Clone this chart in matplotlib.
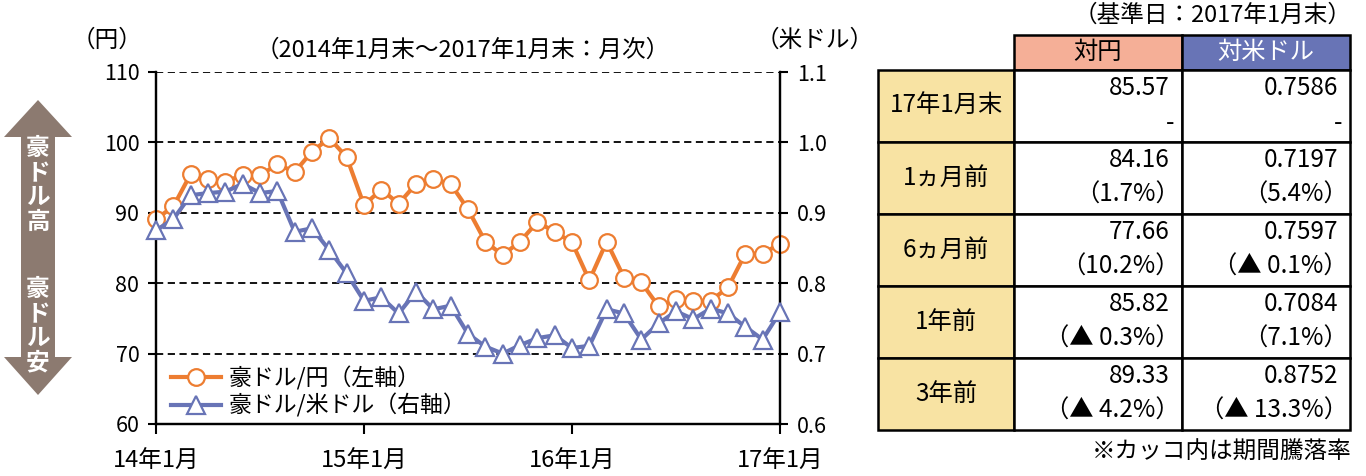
import numpy as np
import matplotlib
matplotlib.use("Agg")
import matplotlib.pyplot as plt
from matplotlib.patches import Polygon, Rectangle

plt.rcParams['font.family'] = ['Noto Sans CJK JP', 'DejaVu Sans']

# monthly data, Jan 2014 .. Jan 2017
aud_jpy = [89.1, 90.9, 95.5, 94.8, 94.4, 95.4, 95.3, 96.9, 95.8, 98.7, 100.6, 97.9,
           91.1, 93.3, 91.3, 94.1, 94.8, 94.1, 90.5, 85.9, 84.0, 85.9, 88.7, 87.3,
           85.8, 80.4, 85.9, 80.8, 80.1, 76.7, 77.7, 77.5, 77.5, 79.4, 84.2, 84.2,
           85.6]
aud_usd = [0.875, 0.891, 0.925, 0.928, 0.930, 0.941, 0.928, 0.931, 0.873, 0.878, 0.847, 0.814,
           0.775, 0.780, 0.757, 0.788, 0.763, 0.768, 0.728, 0.710, 0.700, 0.712, 0.722, 0.726,
           0.708, 0.711, 0.763, 0.757, 0.720, 0.743, 0.760, 0.749, 0.764, 0.757, 0.738, 0.720,
           0.759]
xlabels = ['14年1月', '15年1月', '16年1月', '17年1月']

# table
row_names = ['17年1月末', '1ヵ月前', '6ヵ月前', '1年前', '3年前']
jpy_vals = ['85.57', '84.16', '77.66', '85.82', '89.33']
jpy_chg = ['-', '（1.7%）', '（10.2%）', '（▲ 0.3%）', '（▲ 4.2%）']
usd_vals = ['0.7586', '0.7197', '0.7597', '0.7084', '0.8752']
usd_chg = ['-', '（5.4%）', '（▲ 0.1%）', '（7.1%）', '（▲ 13.3%）']

orange = '#ED7D31'
blue = '#6874B6'

W, H = 1366, 476
fig = plt.figure(figsize=(W / 100, H / 100), dpi=100)

ax = fig.add_axes([156 / W, 1 - 424 / H, 624 / W, 352 / H])
x = np.arange(len(aud_jpy))
ax.plot(x, aud_jpy, color=orange, lw=3, marker='o', ms=12, mfc='white',
        mec=orange, mew=1.6, clip_on=False, zorder=3, label='豪ドル/円（左軸）')
ax.set_ylim(60, 110)
ax.set_xlim(0, 36)
ax.set_yticks(np.arange(60, 111, 10))
ax.set_xticks([0, 12, 24, 36])
ax.set_xticklabels(xlabels)
ax.yaxis.grid(True, color='black', lw=1.3, linestyle=(0, (4, 2.5)))
ax.set_axisbelow(True)

ax2 = ax.twinx()
ax2.plot(x, aud_usd, color=blue, lw=3, marker='^', ms=13, mfc='white',
         mec=blue, mew=1.6, clip_on=False, zorder=3, label='豪ドル/米ドル（右軸）')
ax2.set_ylim(0.6, 1.1)
ax2.set_yticks(np.arange(0.6, 1.11, 0.1))
ax2.set_yticklabels(['0.6', '0.7', '0.8', '0.9', '1.0', '1.1'])

for a in (ax, ax2):
    a.spines['top'].set_visible(False)
    for s in ('left', 'right', 'bottom'):
        a.spines[s].set_linewidth(1.6)
ax.tick_params(axis='y', direction='out', length=6, width=1.5, labelsize=15.5, pad=6)
ax.tick_params(axis='x', direction='out', length=7, width=1.5, labelsize=17, pad=12)
ax2.tick_params(axis='y', direction='out', length=6, width=1.5, labelsize=15.5, pad=6)

h1, l1 = ax.get_legend_handles_labels()
h2, l2 = ax2.get_legend_handles_labels()
leg = ax2.legend(h1 + h2, l1 + l2, loc='lower left', bbox_to_anchor=(0.0, -0.025),
                 frameon=False, fontsize=16.5, numpoints=1, handlelength=2.2,
                 handletextpad=0.3, labelspacing=0.15, borderaxespad=0.25)

# overlay in pixel coordinates
ov = fig.add_axes([0, 0, 1, 1])
ov.set_xlim(0, W)
ov.set_ylim(H, 0)
ov.axis('off')

ov.text(107, 40, '（円）', fontsize=17, ha='center', va='center')
ov.text(815, 40, '（米ドル）', fontsize=17, ha='center', va='center')
ov.text(463, 50, '（2014年1月末～2017年1月末：月次）', fontsize=17, ha='center', va='center')

# double arrow
brown = '#8C7A70'
arrow = Polygon([(38, 100), (72, 137), (55, 137), (55, 357), (72, 357), (38, 395),
                 (4, 357), (21, 357), (21, 137), (4, 137)], closed=True,
                facecolor=brown, edgecolor='none')
ov.add_patch(arrow)
ov.text(38, 185, '\n'.join('豪ドル高'), fontsize=17, fontweight='bold', color='white',
        ha='center', va='center', linespacing=1.02)
ov.text(38, 326, '\n'.join('豪ドル安'), fontsize=17, fontweight='bold', color='white',
        ha='center', va='center', linespacing=1.02)

# table
c0, c1, c2, c3 = 878, 1014, 1182, 1350
row_tops = [70, 142, 214, 286, 358, 430]
lw = 1.8
fs = 17.5
ov.add_patch(Rectangle((c1, 35), c2 - c1, 35, facecolor='#F5AF97', edgecolor='black', lw=lw))
ov.add_patch(Rectangle((c2, 35), c3 - c2, 35, facecolor='#6874B6', edgecolor='black', lw=lw))
ov.text((c1 + c2) / 2, 52, '対円', fontsize=fs, ha='center', va='center')
ov.text((c2 + c3) / 2, 52, '対米ドル', fontsize=fs, ha='center', va='center', color='white')
for i, name in enumerate(row_names):
    t, b = row_tops[i], row_tops[i + 1]
    ov.add_patch(Rectangle((c0, t), c1 - c0, b - t, facecolor='#F8E3A3', edgecolor='black', lw=lw))
    ov.add_patch(Rectangle((c1, t), c2 - c1, b - t, facecolor='white', edgecolor='black', lw=lw))
    ov.add_patch(Rectangle((c2, t), c3 - c2, b - t, facecolor='white', edgecolor='black', lw=lw))
    ov.text((c0 + c1) / 2, (t + b) / 2, name, fontsize=fs, ha='center', va='center')
    ov.text(c2 - 12, t + 18, jpy_vals[i], fontsize=fs, ha='right', va='center')
    ov.text(c3 - 12, t + 18, usd_vals[i], fontsize=fs, ha='right', va='center')
    ov.text(c2 - 8 if jpy_chg[i] == '-' else c2 - 2, t + 53, jpy_chg[i], fontsize=fs, ha='right', va='center')
    ov.text(c3 - 8 if usd_chg[i] == '-' else c3 - 2, t + 53, usd_chg[i], fontsize=fs, ha='right', va='center')

ov.text(c3 + 2, 15, '（基準日：2017年1月末）', fontsize=17, ha='right', va='center')
ov.text(c3 + 2, 452, '※カッコ内は期間騰落率', fontsize=17, ha='right', va='center')

fig.savefig('out.png', dpi=100)
